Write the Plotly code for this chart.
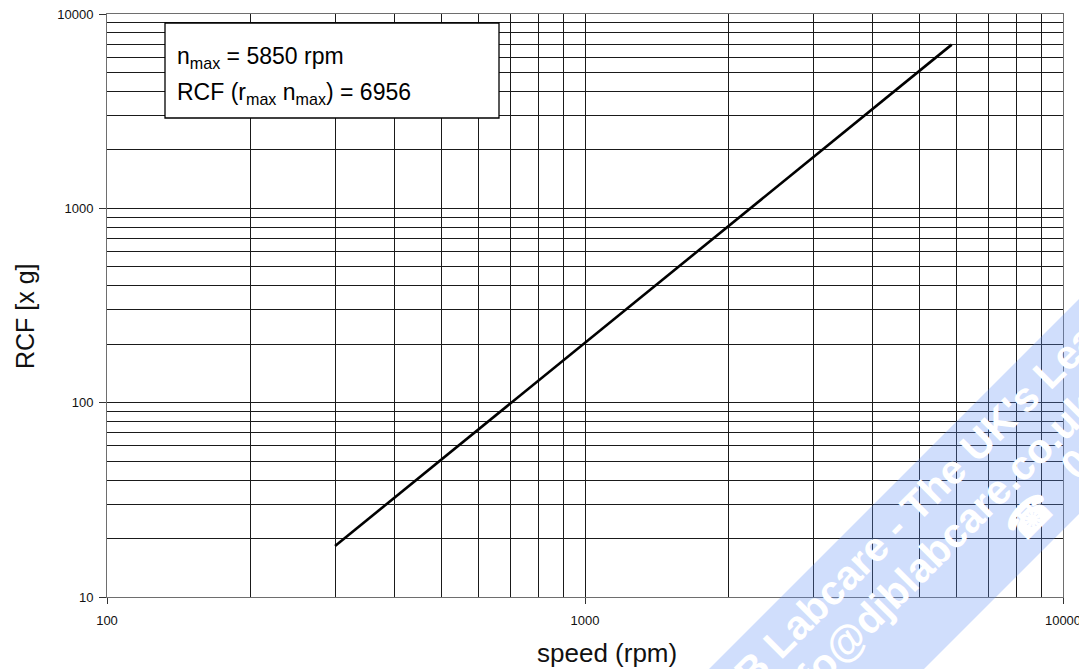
import plotly.graph_objects as go

# ---- data ----
speed_rpm = [300, 1000, 2000, 3000, 5850]
rcf_g = [18.3, 203, 813, 1830, 6956]

x_tick_vals = [100, 1000, 10000]
x_tick_text = ["100", "1000", "10000"]
y_tick_vals = [10, 100, 1000, 10000]
y_tick_text = ["10", "100", "1000", "10000"]
x_minor_vals = [m * 10 ** e for e in (2, 3) for m in range(2, 10)]
y_minor_vals = [m * 10 ** e for e in (1, 2, 3) for m in range(2, 10)]

x_title = "speed (rpm)"
y_title = "RCF [x g]"
info_line1 = "n<sub>max</sub> = 5850 rpm"
info_line2 = "RCF (r<sub>max</sub> n<sub>max</sub>) = 6956"

wm_line1 = "DJB Labcare - The UK's Leading"
wm_line2 = "info@djblabcare.co.uk"
wm_phone = "\u260e"
wm_digits = "01"

# ---- layout geometry (screen pixels) ----
W, H = 1087, 669
OFF = 8                       # browser body margin offset
L, R, T, B = 107, 24, 14, 72  # plot area as seen on screen
PW, PH = W - L - R, H - T - B


def px(x):
    return (x - L) / PW


def py(y):
    return (H - B - y) / PH


FONT = "Arial, Liberation Sans, Helvetica, sans-serif"

fig = go.Figure()
fig.add_trace(go.Scatter(
    x=speed_rpm, y=rcf_g, mode="lines",
    line=dict(color="black", width=2.6),
    showlegend=False, hoverinfo="skip",
))

axis_common = dict(
    type="log",
    automargin=False,
    showline=True, linecolor="#6e6e6e", linewidth=1, mirror=True,
    showgrid=True, gridcolor="#1a1a1a", gridwidth=1,
    ticks="outside", tickcolor="#333", tickwidth=1,
    tickfont=dict(family=FONT, size=13, color="#111"),
    ticklabeloverflow="allow",
    zeroline=False,
)

fig.update_xaxes(
    **axis_common,
    range=[2, 4],
    tickmode="array", tickvals=x_tick_vals, ticktext=x_tick_text,
    ticklen=6, ticklabelstandoff=5,
    minor=dict(tickmode="array", tickvals=x_minor_vals, showgrid=True,
               gridcolor="#1a1a1a", gridwidth=1, ticks=""),
)
fig.update_yaxes(
    **axis_common,
    range=[1, 4],
    tickmode="array", tickvals=y_tick_vals, ticktext=y_tick_text,
    ticklen=7, ticklabelstandoff=3,
    minor=dict(tickmode="array", tickvals=y_minor_vals, showgrid=True,
               gridcolor="#1a1a1a", gridwidth=1, ticks=""),
)

shapes = []
# info box
shapes.append(dict(type="rect", xref="paper", yref="paper",
                   x0=px(165), x1=px(499), y0=py(118), y1=py(23),
                   line=dict(color="black", width=1.3), fillcolor="white",
                   layer="above"))
# watermark band
band = [(709, 669), (1087, 291), (1087, 506), (924, 669)]
path = "M " + " L ".join(f"{px(a):.4f},{py(b):.4f}" for a, b in band) + " Z"
shapes.append(dict(type="path", xref="paper", yref="paper", path=path,
                   fillcolor="rgba(98,145,245,0.3)", line=dict(width=0),
                   layer="above"))

annotations = [
    dict(text=x_title, xref="paper", yref="paper", x=px(607), y=py(653),
         xanchor="center", yanchor="middle", showarrow=False,
         font=dict(family=FONT, size=26, color="#111")),
    dict(text=y_title, xref="paper", yref="paper", x=px(25), y=py(316),
         xanchor="center", yanchor="middle", showarrow=False, textangle=-90,
         font=dict(family=FONT, size=25, color="#111")),
    dict(text=info_line1, xref="paper", yref="paper", x=px(175), y=py(58),
         xanchor="left", yanchor="middle", showarrow=False,
         font=dict(family=FONT, size=23, color="black")),
    dict(text=info_line2, xref="paper", yref="paper", x=px(175), y=py(93),
         xanchor="left", yanchor="middle", showarrow=False,
         font=dict(family=FONT, size=23, color="black")),
]
wm_font = dict(family="Liberation Sans, Arial, sans-serif", size=41, color="white")
for txt, cx, cy in [(wm_line1, 927.5, 493.5), (wm_line2, 933, 554),
                    (wm_phone, 1030, 517), (wm_digits, 1084, 456)]:
    annotations.append(dict(text=f"<b>{txt}</b>", xref="paper", yref="paper",
                            x=px(cx), y=py(cy), xanchor="center", yanchor="middle",
                            textangle=-45, showarrow=False, font=wm_font))

fig.update_layout(
    width=W, height=H, autosize=False,
    margin=dict(l=L - OFF, r=R + OFF, t=T - OFF, b=B + OFF),
    paper_bgcolor="white", plot_bgcolor="white",
    shapes=shapes, annotations=annotations,
    showlegend=False,
)

fig.write_html("out.html")
